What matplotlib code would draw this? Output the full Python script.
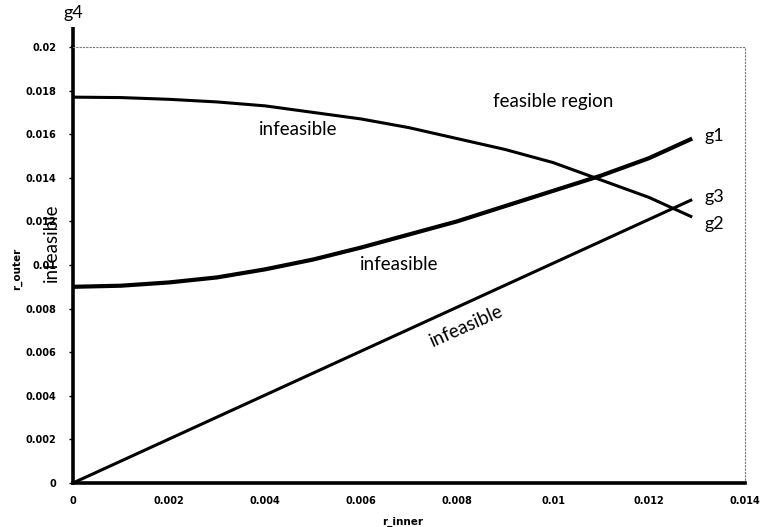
import matplotlib
matplotlib.use("Agg")
import matplotlib.pyplot as plt

# ---- data ----
x_grid = [0.0, 0.001, 0.002, 0.003, 0.004, 0.005, 0.006, 0.007, 0.008,
          0.009, 0.010, 0.011, 0.012, 0.0129]
g1 = [0.0090, 0.00905, 0.00920, 0.00943, 0.00980, 0.01025, 0.0108, 0.0114,
      0.0120, 0.0127, 0.0134, 0.0141, 0.0149, 0.0158]
g2 = [0.0177, 0.01768, 0.01760, 0.01748, 0.0173, 0.0170, 0.0167, 0.0163,
      0.0158, 0.0153, 0.0147, 0.0139, 0.0131, 0.0122]
g3_x = [0.0, 0.0129]
g3 = [0.0, 0.0130]

x_ticks = [0, 0.002, 0.004, 0.006, 0.008, 0.01, 0.012, 0.014]
x_tick_labels = ["0", "0.002", "0.004", "0.006", "0.008", "0.01", "0.012", "0.014"]
y_ticks = [0, 0.002, 0.004, 0.006, 0.008, 0.01, 0.012, 0.014, 0.016, 0.018, 0.02]
y_tick_labels = ["0", "0.002", "0.004", "0.006", "0.008", "0.01", "0.012",
                 "0.014", "0.016", "0.018", "0.02"]

fig = plt.figure(figsize=(7.63, 5.27), dpi=100)
ax = fig.add_axes([73 / 763, 1 - 483 / 527, (745 - 73) / 763, (483 - 47) / 527])

ax.plot(x_grid, g1, color="black", lw=3.0, solid_capstyle="butt",
        solid_joinstyle="round")
ax.plot(x_grid, g2, color="black", lw=2.2, solid_capstyle="butt",
        solid_joinstyle="round")
ax.plot(g3_x, g3, color="black", lw=2.2, solid_capstyle="butt")

ax.set_xlim(0, 0.014)
ax.set_ylim(0, 0.02)
ax.set_xticks(x_ticks)
ax.set_xticklabels(x_tick_labels)
ax.set_yticks(y_ticks)
ax.set_yticklabels(y_tick_labels)
for lbl in ax.get_xticklabels() + ax.get_yticklabels():
    lbl.set_fontsize(7.0)
    lbl.set_fontweight("bold")
    lbl.set_family("DejaVu Sans")
ax.tick_params(axis="y", length=3, width=1, pad=9, color="black")
ax.tick_params(axis="x", length=0, pad=9)

for side in ("left", "bottom"):
    ax.spines[side].set_linewidth(2.6)
    ax.spines[side].set_color("black")
for side in ("top", "right"):
    ax.spines[side].set_linewidth(0.8)
    ax.spines[side].set_linestyle((0, (1, 2)))
    ax.spines[side].set_color("#777777")

# extend the y axis above the plot area up to the g4 label
ax.plot([0, 0], [0.02, 0.0209], color="black", lw=2.6, clip_on=False,
        solid_capstyle="butt")

ax.set_xlabel("r_inner", fontsize=7.5, fontweight="bold")
ax.xaxis.set_label_coords(0.49, -0.078)
ax.set_ylabel("r_outer", fontsize=7.5, fontweight="bold", va="center")
ax.yaxis.set_label_coords(-0.083, 0.49)

tf = "Lato"
fs = 13.5
ax.text(0.0, 0.0212, "g4", fontsize=13, family=tf, ha="center", va="bottom")
ax.text(0.01315, 0.0159, "g1", fontsize=13, family=tf, ha="left", va="center")
ax.text(0.01315, 0.0131, "g3", fontsize=13, family=tf, ha="left", va="center")
ax.text(0.01315, 0.0119, "g2", fontsize=13, family=tf, ha="left", va="center")
ax.text(0.0100, 0.0175, "feasible region", fontsize=fs, family=tf,
        ha="center", va="center")
ax.text(0.0047, 0.0162, "infeasible", fontsize=fs, family=tf,
        ha="center", va="center")
ax.text(0.0068, 0.0100, "infeasible", fontsize=fs, family=tf,
        ha="center", va="center")
ax.text(0.0082, 0.0072, "infeasible", fontsize=fs, family=tf,
        ha="center", va="center", rotation=24)
ax.text(-0.00045, 0.0110, "infeasible", fontsize=fs, family=tf,
        ha="center", va="center", rotation=90, clip_on=False)

fig.savefig("out.png", dpi=100)
